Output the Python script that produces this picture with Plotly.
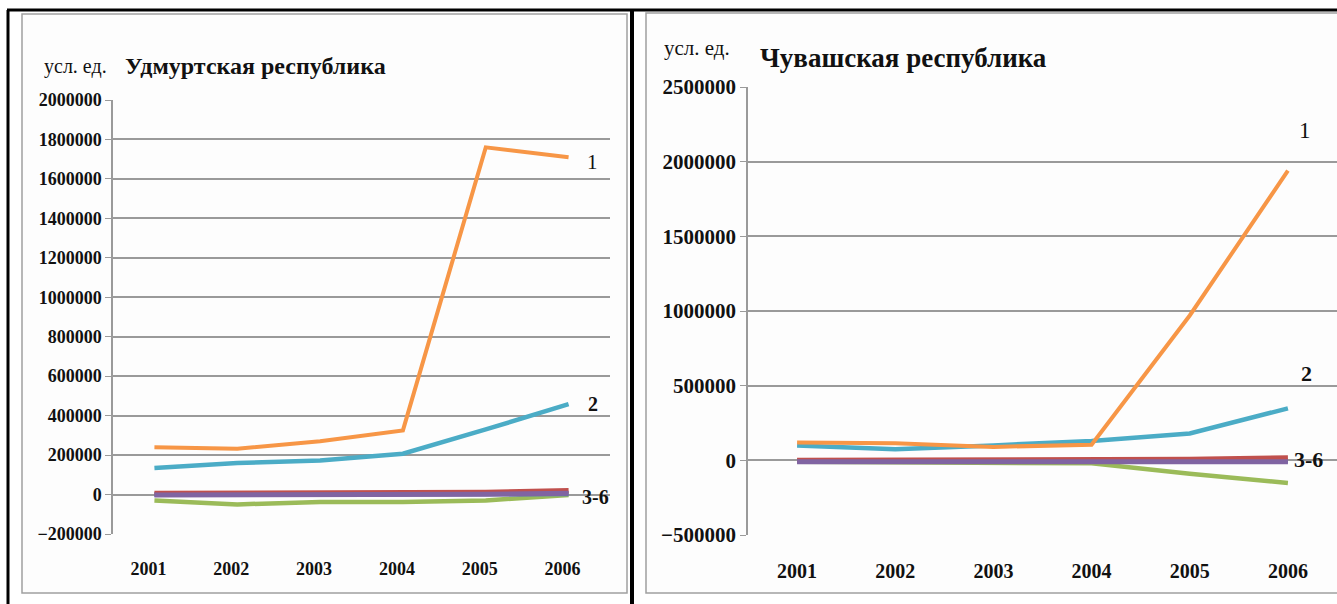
import plotly.graph_objects as go

years = ["2001", "2002", "2003", "2004", "2005", "2006"]

# Удмуртская республика
udm_s1 = [240000, 232000, 270000, 325000, 1760000, 1710000]   # orange "1"
udm_s2 = [135000, 160000, 172000, 207000, 330000, 458000]     # teal "2"
udm_s3 = [-30000, -50000, -38000, -38000, -30000, -2000]      # green
udm_s4 = [6000, 6000, 8000, 10000, 12000, 20000]              # red
udm_s5 = [0, 0, 0, 2000, 2000, 4000]                          # blue
udm_s6 = [-2000, -2000, -1000, 0, 2000, 6000]                 # purple

# Чувашская республика
chu_s1 = [120000, 115000, 90000, 105000, 970000, 1940000]
chu_s2 = [100000, 75000, 100000, 130000, 180000, 348000]
chu_s3 = [-10000, -12000, -20000, -20000, -90000, -152000]
chu_s4 = [0, 0, 2000, 2000, 8000, 18000]
chu_s5 = [-5000, -5000, -5000, -5000, -5000, -5000]
chu_s6 = [-10000, -10000, -10000, -10000, -10000, -10000]

colors = {"s1": "#F79646", "s2": "#4BACC6", "s3": "#9BBB59",
          "s4": "#C0504D", "s5": "#4F81BD", "s6": "#8064A2"}

W, H = 1337, 604
def px(x): return x / W
def py(y): return 1 - y / H

fig = go.Figure()

def add_series(data, xa, ya):
    order = [("s3", data[2], 4.5), ("s5", data[4], 5), ("s4", data[3], 5),
             ("s6", data[5], 5), ("s2", data[1], 4.5), ("s1", data[0], 4)]
    for key, vals, w in order:
        fig.add_trace(go.Scatter(x=years, y=vals, mode="lines", xaxis=xa, yaxis=ya,
                                 line=dict(color=colors[key], width=w),
                                 showlegend=False, hoverinfo="skip"))

add_series([udm_s1, udm_s2, udm_s3, udm_s4, udm_s5, udm_s6], "x", "y")
add_series([chu_s1, chu_s2, chu_s3, chu_s4, chu_s5, chu_s6], "x2", "y2")

serif = "Liberation Serif, Times New Roman, serif"
grid = "#9a9a9a"

def xaxis(domain, size, shift):
    return dict(domain=domain, type="category", showgrid=False, zeroline=False,
                showline=False, ticks="", ticklabelstandoff=22, automargin=False,
                ticklabelshift=shift,
                tickfont=dict(family=serif, size=size, color="#111", weight="bold"),
                range=[-0.5, 5.5], fixedrange=True)

def yaxis(domain, rng, dtick, size, anchor):
    return dict(domain=domain, range=rng, dtick=dtick, tickformat="d", automargin=False,
                showgrid=True, gridcolor=grid, gridwidth=1.5,
                zeroline=True, zerolinecolor=grid, zerolinewidth=1.5,
                showline=True, linecolor=grid, linewidth=1.5,
                ticks="outside", ticklen=6, tickcolor=grid, anchor=anchor,
                tickfont=dict(family=serif, size=size, color="#111", weight="bold"))

fig.update_layout(
    width=W, height=H, margin=dict(l=0, r=0, t=0, b=0, pad=0, autoexpand=False),
    paper_bgcolor="white", plot_bgcolor="rgba(0,0,0,0)",
    xaxis=xaxis([px(113), px(610)], 18, -6),
    yaxis=yaxis([py(534), py(100)], [-200000, 2000000], 200000, 18, "x"),
    xaxis2=xaxis([px(748), 1.0], 20, 0),
    yaxis2=yaxis([py(535), py(87)], [-500000, 2500000], 500000, 21, "x2"),
)
fig.layout.xaxis.anchor = "y"
fig.layout.xaxis2.anchor = "y2"

shapes = [
    # inner chart boxes
    dict(type="rect", xref="paper", yref="paper", x0=px(22), x1=px(627), y0=py(593), y1=py(14),
         line=dict(color="#a0a0a0", width=1.5), fillcolor="#fdfdfd", layer="below"),
    dict(type="rect", xref="paper", yref="paper", x0=px(646), x1=px(1345), y0=py(593), y1=py(13),
         line=dict(color="#a0a0a0", width=1.5), fillcolor="#fdfdfd", layer="below"),
    # outer black frame
    dict(type="line", xref="paper", yref="paper", x0=px(7), x1=1, y0=py(10), y1=py(10),
         line=dict(color="black", width=3)),
    dict(type="line", xref="paper", yref="paper", x0=px(8), x1=px(8), y0=py(10), y1=0,
         line=dict(color="black", width=3)),
    dict(type="line", xref="paper", yref="paper", x0=px(632), x1=px(632), y0=py(10), y1=0,
         line=dict(color="black", width=4)),
]
fig.update_layout(shapes=shapes)

def ann(text, x, y, size, bold=True):
    return dict(text=text, x=px(x), y=py(y), xref="paper", yref="paper", showarrow=False,
                xanchor="left", yanchor="middle",
                font=dict(family=serif, size=size, color="#111", weight="bold" if bold else "normal"))

annotations = [
    ann("усл. ед.", 42, 67, 20, False),
    ann("Удмуртская республика", 123, 66, 24),
    ann("усл. ед.", 662, 48, 21, False),
    ann("Чувашская республика", 758, 58, 27),
    ann("1", 585, 162, 21, False),
    ann("2", 586, 404, 20),
    ann("3-6", 580, 497, 20),
    ann("1", 1297, 130, 23, False),
    ann("2", 1299, 373, 22),
    ann("3-6", 1292, 459, 22),
]
fig.update_layout(annotations=annotations)

fig.write_html("out.html", config={"displayModeBar": False},
               post_script="document.body.style.margin='0';document.body.style.overflow='hidden';")
